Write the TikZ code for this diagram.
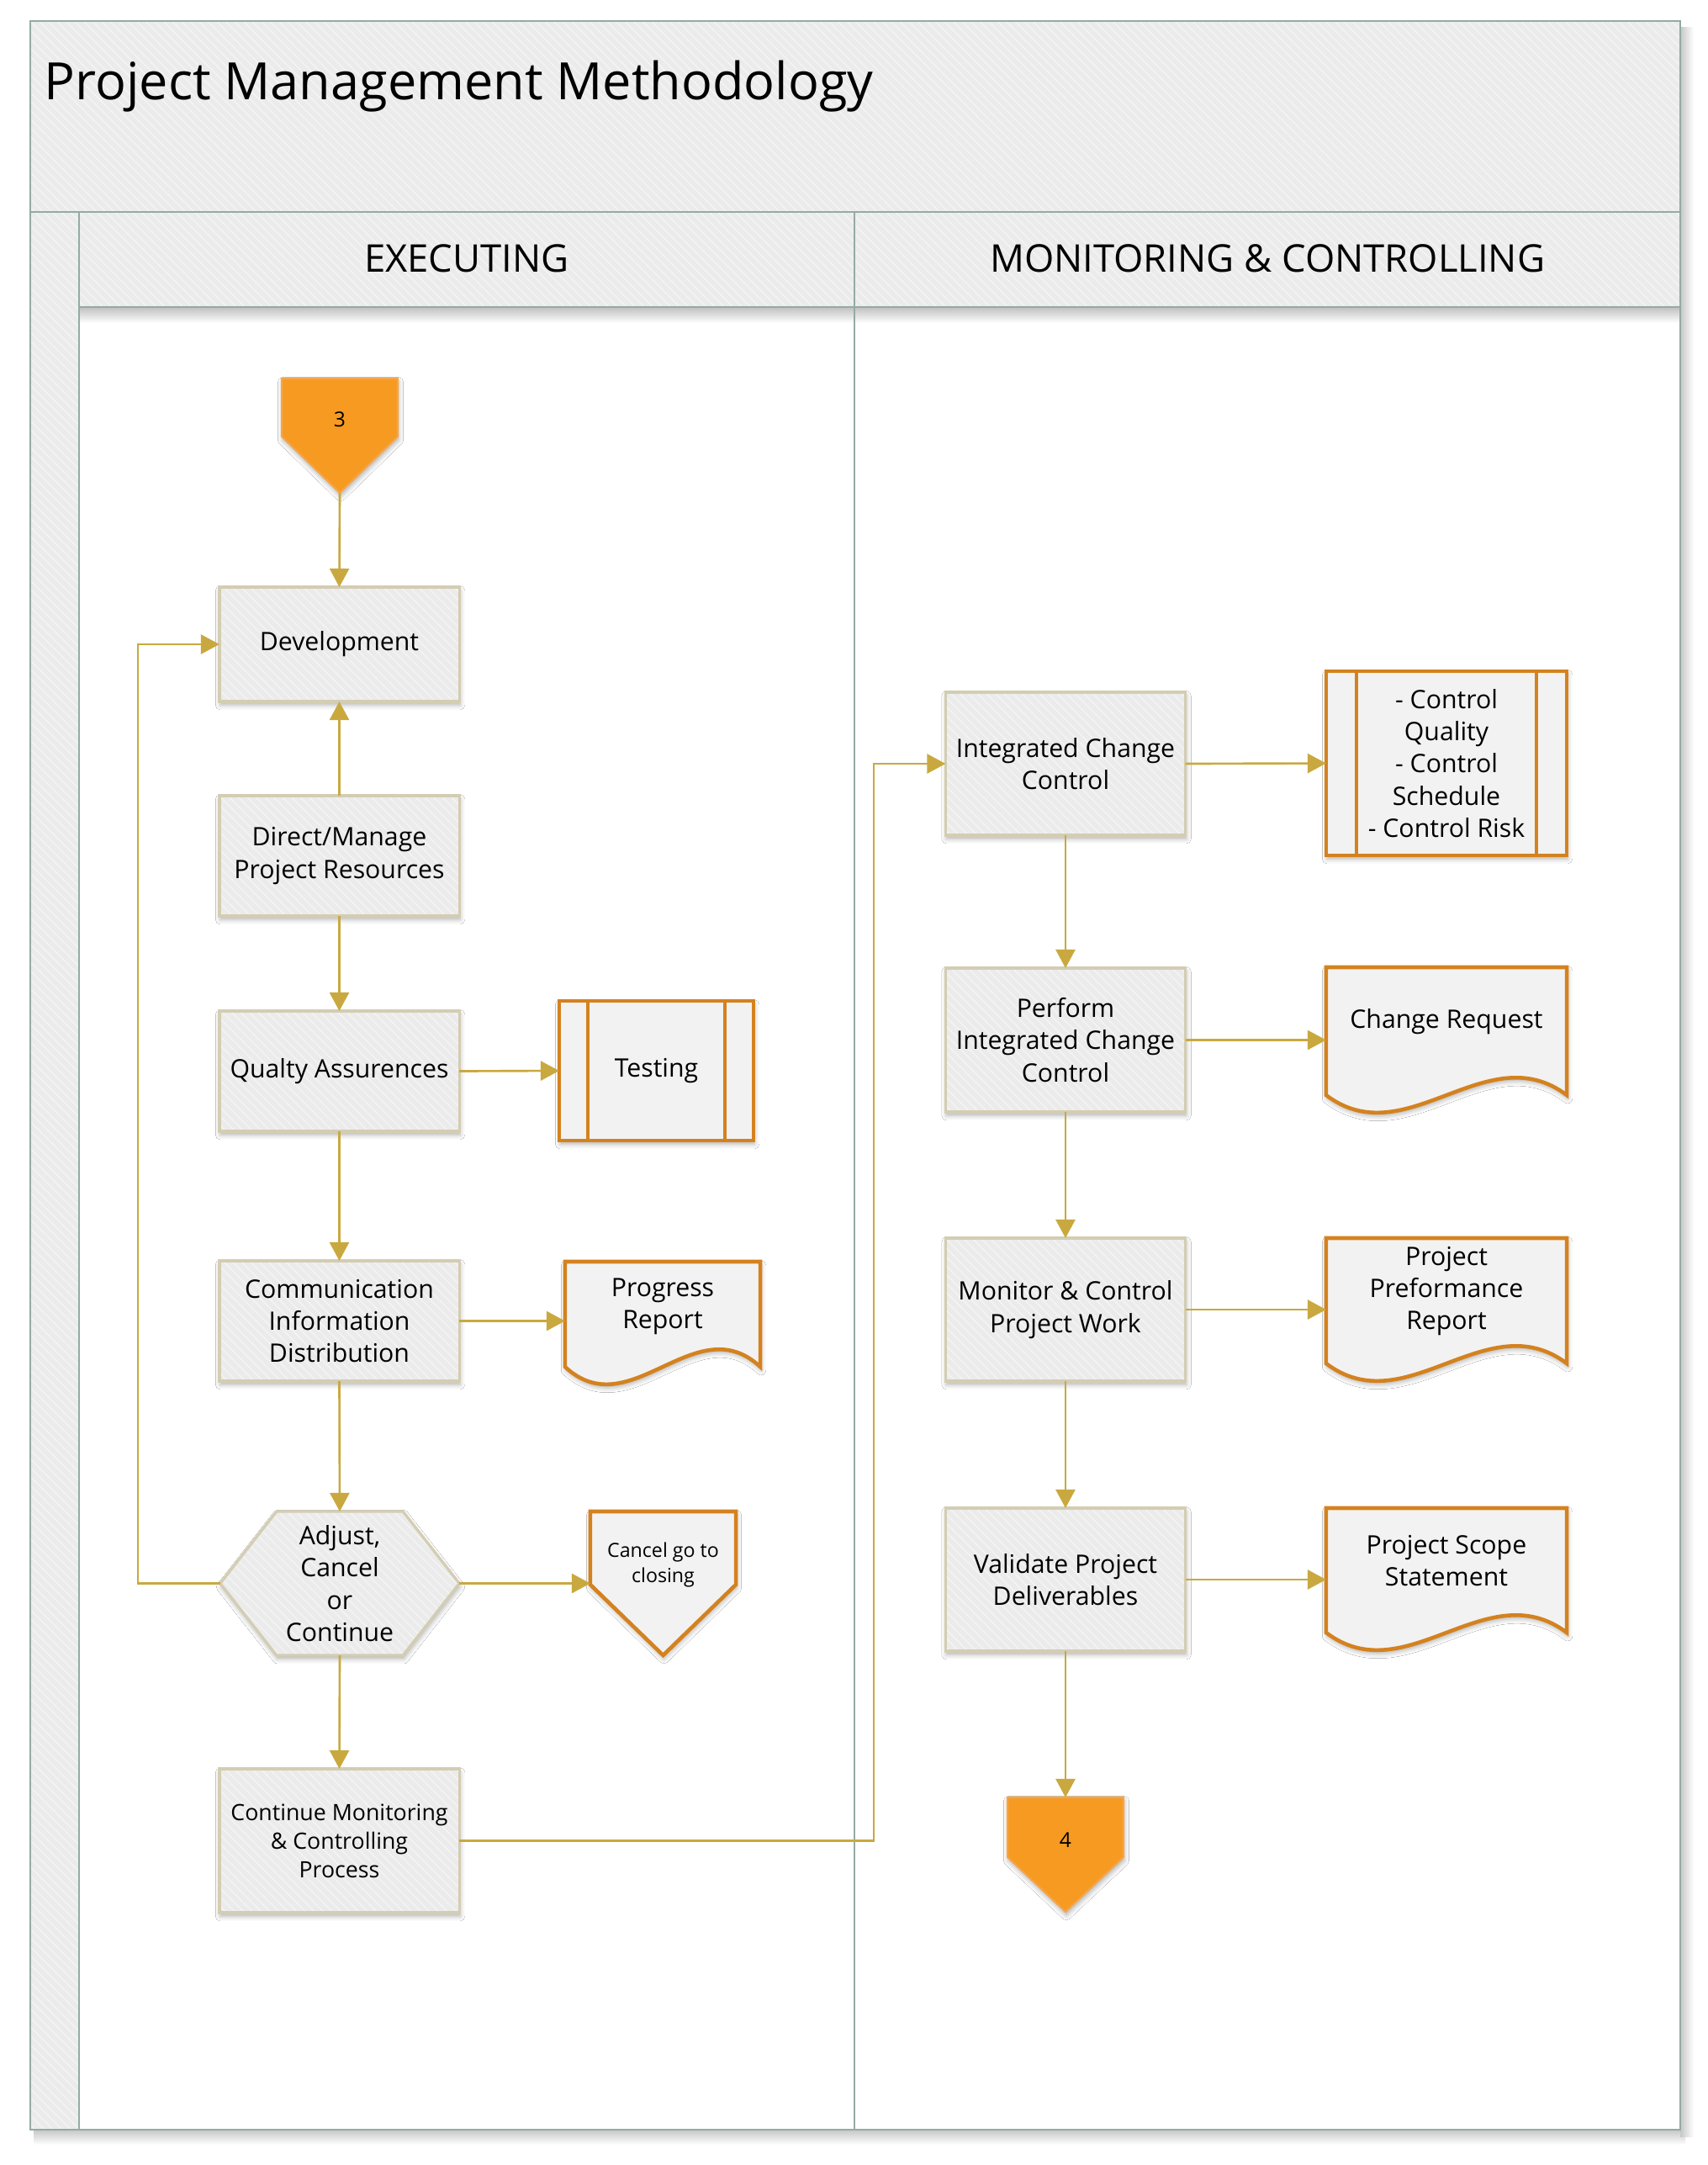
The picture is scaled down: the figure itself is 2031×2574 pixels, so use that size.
\documentclass[tikz,border=0pt]{standalone}
\usepackage{fontspec}
\setmainfont{Open Sans}
\usetikzlibrary{arrows.meta,calc,patterns,shadows.blur}

\definecolor{framec}{HTML}{94ABA3}
\definecolor{bandfill}{HTML}{EBEBEB}
\definecolor{hatchc}{HTML}{F4F4F4}
\definecolor{boxborder}{HTML}{D3CDB2}
\definecolor{arrowc}{HTML}{C9A93F}
\definecolor{docborder}{HTML}{D4821F}
\definecolor{docfill}{HTML}{F2F2F2}
\definecolor{orangefill}{HTML}{F79A21}
\definecolor{orangeborder}{HTML}{F3A64E}

\tikzset{
  hatched/.style={preaction={fill=bandfill}, preaction={pattern=north west lines, pattern color=hatchc}},
  softshadow/.style={blur shadow={shadow xshift=0.3pt, shadow yshift=-1.2pt, shadow blur radius=1.6pt, shadow opacity=30}},
  frameline/.style={draw=framec, line width=0.8pt},
  boxfont/.style={font=\fontsize{8.6}{10.9}\selectfont},
  proc/.style={softshadow, hatched, draw=boxborder, line width=0.9pt, boxfont,
    minimum width=2.85cm, inner sep=0pt, outer sep=0pt, align=center},
  textonly/.style={boxfont, inner sep=0pt, outer sep=0pt, align=center},
  subproc/.style={softshadow, draw=docborder, line width=1.3pt, fill=docfill, boxfont,
    inner sep=0pt, outer sep=0pt, align=center},
  docshape/.style={softshadow, draw=docborder, line width=1.3pt, fill=docfill},
  docline/.style={draw=docborder, line width=1.3pt},
  hexshape/.style={softshadow, hatched, draw=boxborder, line width=0.9pt},
  offshape/.style={softshadow, draw=orangeborder, line width=0.6pt, fill=orangefill},
  conn/.style={draw=arrowc, line width=0.75pt, -{Triangle[length=0.22cm,width=0.23cm]}, arrowc},
  lanehead/.style={font=\fontsize{12.9}{15}\selectfont, inner sep=0pt},
}

\newcommand\docoutline[2]{%
  \path[docshape] (#1.north west) -- (#1.north east) -- ($(#1.south east)+(0,#2)$)
    .. controls ($(#1.south east)!0.333!(#1.south west)+(0,#2-72)$)
       and ($(#1.south east)!0.667!(#1.south west)+(0,#2+72)$) ..
    ($(#1.south west)+(0,#2)$) -- cycle;}

\begin{document}
\begin{tikzpicture}[x=0.01cm, y=-0.01cm]
\useasboundingbox (0,0) rectangle (2031,2574);

% ---------- frame / swimlanes ----------
\fill[white] (0,0) rectangle (2031,2574);
\shade[top color=black!22, bottom color=white] (40,2532) rectangle (2004,2550);
\shade[left color=black!22, right color=white] (1998,32) rectangle (2014,2540);
\shade[top color=black!25, bottom color=white] (94,365) rectangle (1998,384);
\fill[bandfill] (36,25) rectangle (1998,252);
\fill[pattern=north west lines, pattern color=hatchc] (36,25) rectangle (1998,252);
\fill[bandfill] (36,252) rectangle (94,2532);
\fill[pattern=north west lines, pattern color=hatchc] (36,252) rectangle (94,2532);
\fill[bandfill] (94,252) rectangle (1998,365);
\fill[pattern=north west lines, pattern color=hatchc] (94,252) rectangle (1998,365);
\draw[frameline] (36,25) rectangle (1998,2532);
\draw[frameline] (36,252) -- (1998,252);
\draw[frameline] (94,252) -- (94,2532);
\draw[frameline] (94,365) -- (1998,365);
\draw[frameline] (1016,252) -- (1016,2532);

\node[anchor=base west, inner sep=0pt, font=\fontsize{17.4}{20}\selectfont] (title) at (52,118) {Project Management Methodology};
\node[lanehead] (exec) at (555,307) {EXECUTING};
\node[lanehead] (monc) at (1507,307) {MONITORING \& CONTROLLING};

% ---------- shape frames (no text) ----------
\node[textonly, minimum width=1.38cm, minimum height=0.98cm] (off3) at (404,499) {};
\node[textonly, minimum width=2.32cm, minimum height=1.06cm] (prog) at (788,1553) {};
\node[textonly, minimum width=2.84cm, minimum height=1.71cm] (hex) at (404,1882.5) {};
\node[textonly, minimum width=1.73cm, minimum height=1.26cm] (cancel) at (788.5,1860) {};
\node[textonly, minimum width=2.86cm, minimum height=1.30cm] (cr) at (1720,1215) {};
\node[textonly, minimum width=2.86cm, minimum height=1.26cm] (ppr) at (1720,1535) {};
\node[textonly, minimum width=2.86cm, minimum height=1.25cm] (pss) at (1720,1855.5) {};
\node[textonly, minimum width=1.38cm, minimum height=1.02cm] (off4) at (1267,2188) {};

\path[offshape] (off3.north west) -- (off3.north east) -- ($(off3.north east)+(0,69)$)
  -- ($(off3.north)+(0,136)$) -- ($(off3.north west)+(0,69)$) -- cycle;
\path[offshape] (off4.north west) -- (off4.north east) -- ($(off4.north east)+(0,71)$)
  -- ($(off4.north)+(0,136)$) -- ($(off4.north west)+(0,71)$) -- cycle;
\path[hexshape] (hex.west) -- ($(hex.north west)+(67,0)$) -- ($(hex.north east)+(-67,0)$)
  -- (hex.east) -- ($(hex.south east)+(-67,0)$) -- ($(hex.south west)+(67,0)$) -- cycle;
\path[docshape] (cancel.north west) -- (cancel.north east) -- ($(cancel.north east)+(0,87)$)
  -- ($(cancel.north)+(0,171)$) -- ($(cancel.north west)+(0,87)$) -- cycle;
\docoutline{prog}{19}
\docoutline{cr}{22}
\docoutline{ppr}{23}
\docoutline{pss}{23}

% ---------- texts of the drawn shapes ----------
\node[textonly, font=\fontsize{7}{8}\selectfont] (off3t) at (off3.center) {3};
\node[textonly] (progt) at (prog.center) {Progress\\Report};
\node[textonly] (hext) at (hex.center) {Adjust,\\Cancel\\or\\Continue};
\node[textonly, font=\fontsize{6.6}{8.5}\selectfont] (cancelt) at (cancel.center) {Cancel go to\\closing};
\node[textonly] (crt) at (cr.center) {Change Request};
\node[textonly] (pprt) at (ppr.center) {Project\\Preformance\\Report};
\node[textonly] (psst) at (pss.center) {Project Scope\\Statement};
\node[textonly, font=\fontsize{7}{8}\selectfont] (off4t) at (off4.center) {4};

% ---------- executing lane ----------
\node[proc, minimum height=1.36cm] (dev) at (403.5,766) {Development};
\node[proc, minimum height=1.43cm] (dir) at (403.5,1017.5) {Direct/Manage\\Project Resources};
\node[proc, minimum height=1.43cm] (qa) at (403.5,1273.5) {Qualty Assurences};
\node[subproc, minimum width=2.31cm, minimum height=1.66cm] (test) at (780.5,1273) {Testing};
\draw[docline] ($(test.north west)+(34,0)$) -- ($(test.south west)+(34,0)$);
\draw[docline] ($(test.north east)+(-34,0)$) -- ($(test.south east)+(-34,0)$);
\node[proc, minimum height=1.43cm] (comm) at (403.5,1570.5) {Communication\\Information\\Distribution};
\node[proc, minimum height=1.71cm, font=\fontsize{7.6}{9.7}\selectfont] (cont) at (403.5,2188.5) {Continue Monitoring\\\& Controlling\\Process};

% ---------- monitoring lane ----------
\node[proc, minimum height=1.70cm] (icc) at (1267,908) {Integrated Change\\Control};
\node[subproc, minimum width=2.86cm, minimum height=2.19cm] (ctrl) at (1720,907.5) {- Control\\Quality\\- Control\\Schedule\\- Control Risk};
\draw[docline] ($(ctrl.north west)+(36,0)$) -- ($(ctrl.south west)+(36,0)$);
\draw[docline] ($(ctrl.north east)+(-36,0)$) -- ($(ctrl.south east)+(-36,0)$);
\node[proc, minimum height=1.71cm] (pic) at (1267,1236.5) {Perform\\Integrated Change\\Control};
\node[proc, minimum height=1.70cm] (mcw) at (1267,1557) {Monitor \& Control\\Project Work};
\node[proc, minimum height=1.70cm] (val) at (1267,1878) {Validate Project\\Deliverables};

% ---------- connectors ----------
\coordinate (off3tip) at ($(off3.north)+(0,136)$);
\coordinate (loopx) at (164,0);
\coordinate (jx) at (1039,0);
\draw[conn] (off3tip) -- (dev.north);
\draw[conn] (dir.north) -- (dev.south);
\draw[conn] (dir.south) -- (qa.north);
\draw[conn] (qa.east) -- (test.west);
\draw[conn] (qa.south) -- (comm.north);
\draw[conn] (comm.east) -- (comm.east -| prog.west);
\draw[conn] (comm.south) -- (hex.north);
\draw[conn] (hex.east) -- (hex.east -| cancel.west);
\draw[conn] (hex.south) -- (cont.north);
\draw[conn] (hex.west) -- (hex.west -| loopx) |- (dev.west);
\draw[conn] (cont.east) -- (cont.east -| jx) |- (icc.west);
\draw[conn] (icc.east) -- (ctrl.west);
\draw[conn] (icc.south) -- (pic.north);
\draw[conn] (pic.east) -- (pic.east -| cr.west);
\draw[conn] (pic.south) -- (mcw.north);
\draw[conn] (mcw.east) -- (mcw.east -| ppr.west);
\draw[conn] (mcw.south) -- (val.north);
\draw[conn] (val.east) -- (val.east -| pss.west);
\draw[conn] (val.south) -- (off4.north);
\end{tikzpicture}
\end{document}
